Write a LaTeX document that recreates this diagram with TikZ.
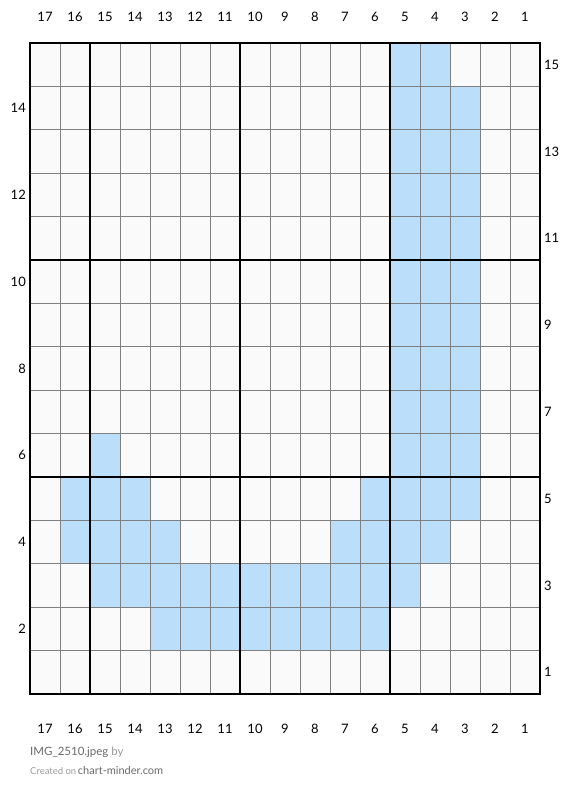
\documentclass[tikz,border=0pt]{standalone}
\usepackage{fontspec}
\setmainfont{Lato}
\definecolor{cellbg}{HTML}{FAFAFA}
\definecolor{cellblue}{HTML}{BBDEFA}
\definecolor{gridgray}{HTML}{808080}
\definecolor{footgray}{HTML}{6A6A6A}
\definecolor{footlight}{HTML}{9A9A9A}
\tikzset{
  numlabel/.style={font=\fontsize{13}{15}\selectfont, text=black, inner sep=0pt},
  thinline/.style={draw=gridgray, line width=0.9pt},
  thickline/.style={draw=black, line width=2.4pt},
  bluecell/.style={fill=cellblue},
}
\begin{document}
\begin{tikzpicture}[x=1pt,y=-1pt]
\useasboundingbox (0,0) rectangle (570,800);
\def\cw{30}
\def\ch{43.4}
% background of grid
\fill[cellbg] (30,43) rectangle (540,694);
% blue cells: list of (column, row) with column 17 at left, row 15 at top
\foreach \c/\r in {5/15,4/15,
  5/14,4/14,3/14, 5/13,4/13,3/13, 5/12,4/12,3/12, 5/11,4/11,3/11,
  5/10,4/10,3/10, 5/9,4/9,3/9, 5/8,4/8,3/8, 5/7,4/7,3/7,
  5/6,4/6,3/6, 15/6,
  16/5,15/5,14/5, 6/5,5/5,4/5,3/5,
  16/4,15/4,14/4,13/4, 7/4,6/4,5/4,4/4,
  15/3,14/3,13/3,12/3,11/3,10/3,9/3,8/3,7/3,6/3,5/3,
  13/2,12/2,11/2,10/2,9/2,8/2,7/2,6/2}{
  \fill[bluecell] ({30+(17-\c)*\cw},{43+(15-\r)*\ch}) rectangle ++(\cw,\ch);
}
% thin grid lines
\foreach \i in {1,...,16}{
  \draw[thinline] ({30+\i*\cw},43) -- ({30+\i*\cw},694);
}
\foreach \j in {1,...,14}{
  \draw[thinline] (30,{43+\j*\ch}) -- (540,{43+\j*\ch});
}
% thick lines
\foreach \xx in {90,240,390}{
  \draw[thickline] (\xx,43) -- (\xx,694);
}
\foreach \j in {5,10}{
  \draw[thickline] (30,{43+\j*\ch}) -- (540,{43+\j*\ch});
}
\draw[thickline] (30,43) rectangle (540,694);
% column labels
\foreach \c in {1,...,17}{
  \node[numlabel] (ct\c) at ({30+(17-\c)*\cw+15},17) {\c};
  \node[numlabel] (cb\c) at ({30+(17-\c)*\cw+15},729) {\c};
}
% row labels
\foreach \r in {2,4,...,14}{
  \node[numlabel, anchor=east] (rl\r) at (26,{43+(15-\r)*\ch+\ch/2}) {\r};
}
\foreach \r in {1,3,...,15}{
  \node[numlabel, anchor=west] (rr\r) at (544,{43+(15-\r)*\ch+\ch/2}) {\r};
}
% footer
\node[anchor=west, inner sep=0pt, font=\fontsize{11.5}{13}\selectfont] (foot1) at (30,752)
  {\textcolor{footgray}{IMG\_2510.jpeg} \textcolor{footlight}{by}};
\node[anchor=west, inner sep=0pt] (foot2) at (30,770)
  {\textcolor{footlight}{\fontsize{9.5}{11}\selectfont Created on}\,\textcolor{footgray}{\fontsize{11}{13}\selectfont chart-minder.com}};
\end{tikzpicture}
\end{document}
